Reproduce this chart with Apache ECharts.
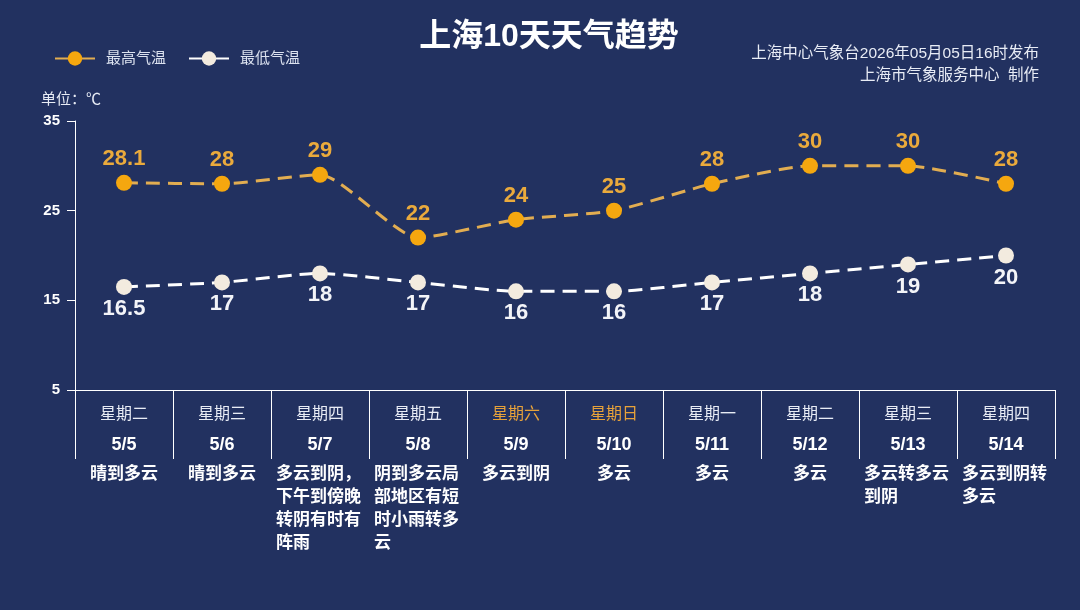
<!DOCTYPE html>
<html>
<head>
	<meta charset="UTF-8">
	<title>上海10天天气趋势</title>
	<style>
		html, body { margin: 0; padding: 0; background: #223160; }
		#chart { width: 1080px; height: 610px; }
	</style>
</head>
<body>
	<div id="chart"></div>

	<script type="text/javascript" src="https://cdn.jsdelivr.net/npm/echarts@6/dist/echarts.min.js"></script>
	<script type="text/javascript">

	// 日期 / 星期 / 天气
	var dates = ['5/5', '5/6', '5/7', '5/8', '5/9', '5/10', '5/11', '5/12', '5/13', '5/14'];
	var weekdays = ['星期二', '星期三', '星期四', '星期五', '星期六', '星期日', '星期一', '星期二', '星期三', '星期四'];
	var weather = ['晴到多云', '晴到多云', '多云到阴，下午到傍晚转阴有时有阵雨', '阴到多云局部地区有短时小雨转多云',
		'多云到阴', '多云', '多云', '多云', '多云转多云到阴', '多云到阴转多云'];

	// 气温
	var highTemp = [28.1, 28, 29, 22, 24, 25, 28, 30, 30, 28];
	var lowTemp = [16.5, 17, 18, 17, 16, 16, 17, 18, 19, 20];

	// y轴刻度
	var yMin = 5, yMax = 35, yStep = 10;

	var font = "'Liberation Sans', Arial, 'Noto Sans CJK SC', sans-serif";
	var orange = '#f5a70f';

	function wrap(str, n) {
		var out = [];
		for (var i = 0; i < str.length; i += n) {
			out.push(str.substr(i, n));
		}
		return out.join('\n');
	}

	var myChart = echarts.init(document.getElementById('chart'));

	var option = {
		backgroundColor: '#223160',
		textStyle: { fontFamily: font },
		title: [
			{
				text: '上海10天天气趋势',
				left: 544,
				top: 16,
				textAlign: 'center',
				textStyle: { color: '#ffffff', fontSize: 32, fontWeight: 'bold', fontFamily: font }
			},
			{
				text: '上海中心气象台2026年05月05日16时发布\n上海市气象服务中心  制作',
				left: 1034,
				top: 38,
				textAlign: 'right',
				textStyle: { color: '#e8ecf5', fontSize: 15.5, fontWeight: 'normal', lineHeight: 22, align: 'right', fontFamily: font }
			}
		],
		legend: {
			left: 49,
			top: 46,
			itemWidth: 40,
			itemHeight: 18,
			itemGap: 22,
			lineStyle: { type: 'solid' },
			textStyle: { color: '#dde3f0', fontSize: 15, padding: [0, 0, 0, 6] },
			data: ['最高气温', '最低气温']
		},
		grid: { left: 75, right: 25, top: 121, bottom: 220, containLabel: false },
		xAxis: {
			type: 'category',
			boundaryGap: true,
			data: dates,
			axisLine: { lineStyle: { color: '#ffffff', width: 1 } },
			axisTick: { show: true, length: 69, lineStyle: { color: '#ffffff', width: 1 } },
			axisLabel: {
				interval: 0,
				margin: 10,
				formatter: function (value, idx) {
					var wk = weekdays[idx];
					var dStyle = (wk === '星期六' || wk === '星期日') ? 'dw' : 'd';
					var w = weather[idx];
					var wStyle = w.length > 5 ? 'wl' : 'w';
					return '{' + dStyle + '|' + wk + '}\n{t|' + value + '}\n{s| }\n{' + wStyle + '|' + wrap(w, 5) + '}';
				},
				rich: {
					d: { color: '#e8ecf5', fontSize: 16, lineHeight: 30, fontFamily: font },
					dw: { color: '#e7a23a', fontSize: 16, lineHeight: 30, fontFamily: font },
					t: { color: '#ffffff', fontSize: 18, fontWeight: 'bold', lineHeight: 30, fontFamily: font },
					s: { fontSize: 3, lineHeight: 3 },
					w: { color: '#ffffff', fontSize: 17, fontWeight: 'bold', lineHeight: 23, fontFamily: font },
					wl: { color: '#ffffff', fontSize: 17, fontWeight: 'bold', lineHeight: 23, width: 88, align: 'left', fontFamily: font }
				}
			}
		},
		yAxis: {
			type: 'value',
			min: yMin,
			max: yMax,
			interval: yStep,
			name: '单位：℃',
			nameLocation: 'end',
			nameGap: 14,
			nameTextStyle: { color: '#e8ecf5', fontSize: 15, padding: [0, 8, 0, 0] },
			axisLine: { show: true, lineStyle: { color: '#ffffff', width: 1 } },
			axisTick: { show: true, length: 8, lineStyle: { color: '#ffffff' } },
			axisLabel: { color: '#ffffff', fontSize: 15, fontWeight: 'bold', margin: 15 },
			splitLine: { show: false }
		},
		series: [
			{
				name: '最高气温',
				type: 'line',
				data: highTemp,
				smooth: 0.2,
				symbol: 'circle',
				symbolSize: 16,
				itemStyle: { color: orange },
				lineStyle: { color: '#e2ad51', width: 3, type: [14, 8] },
				label: {
					show: true,
					position: 'top',
					distance: 5,
					color: '#eaaa3c',
					fontSize: 22,
					fontWeight: 'bold'
				},
				z: 3
			},
			{
				name: '最低气温',
				type: 'line',
				data: lowTemp,
				smooth: 0.2,
				symbol: 'circle',
				symbolSize: 16,
				itemStyle: { color: '#f3ebdf' },
				lineStyle: { color: '#ffffff', width: 3, type: [14, 8] },
				label: {
					show: true,
					position: 'bottom',
					distance: 3,
					color: '#f3f4f8',
					fontSize: 22,
					fontWeight: 'bold'
				},
				z: 2
			}
		]
	};

	myChart.setOption(option);
	</script>
</body>
</html>
